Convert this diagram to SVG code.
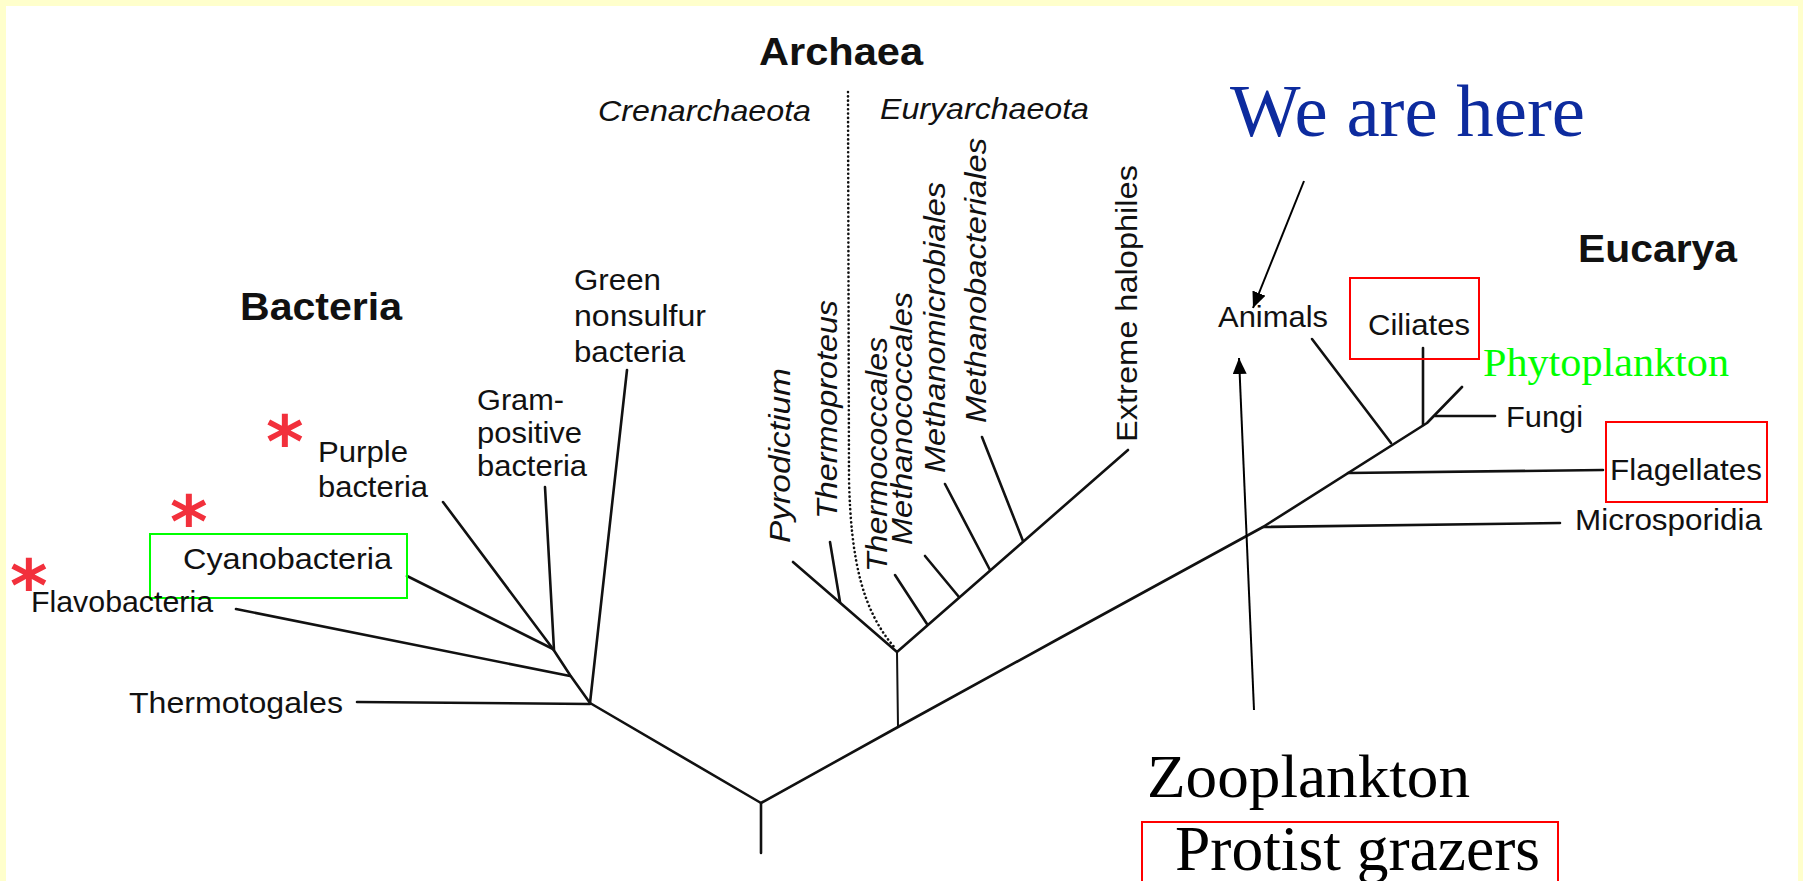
<svg xmlns="http://www.w3.org/2000/svg" width="1803" height="881" viewBox="0 0 1803 881">
<defs>
<marker id="ah" viewBox="0 0 16 14" refX="16" refY="7" markerWidth="16" markerHeight="14" markerUnits="userSpaceOnUse" orient="auto">
<path d="M0,0 L16,7 L0,14 z" fill="#000"/>
</marker>
<style>
.lbl{font-family:"Liberation Sans",Arial,sans-serif;font-size:30px;fill:#111}
.it{font-style:italic}
.big{font-family:"Liberation Sans",Arial,sans-serif;font-size:38px;font-weight:bold;fill:#111}
.ser{font-family:"Liberation Serif","Times New Roman",serif}
.ast{font-family:"DejaVu Sans",sans-serif;font-weight:bold;font-size:72px;fill:#F2303C}
.br{fill:none;stroke:#111;stroke-width:2.6;stroke-linecap:round;stroke-linejoin:round}
.thin{stroke-width:2}
.arr{fill:none;stroke:#000;stroke-width:2}
.rbox{fill:none;stroke:#FF0000;stroke-width:2}
.gbox{fill:none;stroke:#00FF00;stroke-width:2}
</style>
</defs>
<rect x="0" y="0" width="1803" height="881" fill="#FFFFCC"/>
<rect x="6" y="6" width="1792" height="880" fill="#FFFFFF"/>

<g id="connectors">
<path class="br" d="M761,853 L761,803 L590,703"/>
<path class="br" d="M761,803 L898,727 L1060,638 L1263,527 L1427,423 L1462,387"/>
<path class="br" d="M357,702 L590,704"/>
<path class="br" d="M590,703 L627,370"/>
<path class="br" d="M590,703 L570,675 L553,649"/>
<path class="br" d="M236,609 L570,676"/>
<path class="br" d="M407,576 L553,649"/>
<path class="br" d="M443,502 L553,649"/>
<path class="br" d="M545,487 L554,650"/>
<path class="br thin" d="M898,727 L897,652"/>
<path class="br" d="M793,562 L897,652 L1128,450"/>
<path class="br" d="M830,542 L840,602"/>
<path class="br" d="M895,575 L927,624"/>
<path class="br" d="M925,556 L959,597"/>
<path class="br" d="M945,484 L990,570"/>
<path class="br" d="M982,437 L1023,541"/>
<path fill="none" stroke="#111" stroke-width="2.6" stroke-linecap="round" stroke-dasharray="0.1 4.2" d="M848,92 L849,480 C851,560 862,610 895,648"/>
<path class="br" d="M1263,527 L1560,523"/>
<path class="br" d="M1348,473 L1603,470"/>
<path class="br" d="M1312,339 L1391,443"/>
<path class="br" d="M1423,348 L1423,425"/>
<path class="br" d="M1435,416 L1495,416"/>
<path class="arr" d="M1304,181 L1253,308" marker-end="url(#ah)"/>
<path class="arr" d="M1254,710 L1239,358" marker-end="url(#ah)"/>
</g>

<g id="domain-labels">
<text class="big" x="240" y="320" textLength="162" lengthAdjust="spacingAndGlyphs">Bacteria</text>
<text class="big" x="759" y="65" textLength="164" lengthAdjust="spacingAndGlyphs">Archaea</text>
<text class="big" x="1578" y="262" textLength="159" lengthAdjust="spacingAndGlyphs">Eucarya</text>
<text class="lbl it" x="598" y="121" textLength="213" lengthAdjust="spacingAndGlyphs">Crenarchaeota</text>
<text class="lbl it" x="880" y="119" textLength="209" lengthAdjust="spacingAndGlyphs">Euryarchaeota</text>
</g>

<g id="node-green-nonsulfur">
<text class="lbl" x="574" y="290" textLength="87" lengthAdjust="spacingAndGlyphs">Green</text>
<text class="lbl" x="574" y="326" textLength="132" lengthAdjust="spacingAndGlyphs">nonsulfur</text>
<text class="lbl" x="574" y="362" textLength="111" lengthAdjust="spacingAndGlyphs">bacteria</text>
</g>
<g id="node-gram-positive">
<text class="lbl" x="477" y="410" textLength="87" lengthAdjust="spacingAndGlyphs">Gram-</text>
<text class="lbl" x="477" y="443" textLength="105" lengthAdjust="spacingAndGlyphs">positive</text>
<text class="lbl" x="477" y="476" textLength="110" lengthAdjust="spacingAndGlyphs">bacteria</text>
</g>
<g id="node-purple">
<text class="lbl" x="318" y="462" textLength="90" lengthAdjust="spacingAndGlyphs">Purple</text>
<text class="lbl" x="318" y="497" textLength="110" lengthAdjust="spacingAndGlyphs">bacteria</text>
<text class="ast" x="266" y="467">*</text>
</g>
<g id="node-cyanobacteria">
<rect class="gbox" x="150" y="534" width="257" height="64"/>
<text class="lbl" x="183" y="569" textLength="209" lengthAdjust="spacingAndGlyphs">Cyanobacteria</text>
<text class="ast" x="170" y="547">*</text>
</g>
<g id="node-flavobacteria">
<text class="lbl" x="31" y="612" textLength="182" lengthAdjust="spacingAndGlyphs">Flavobacteria</text>
<text class="ast" x="10" y="611">*</text>
</g>
<g id="node-thermotogales">
<text class="lbl" x="129" y="713" textLength="214" lengthAdjust="spacingAndGlyphs">Thermotogales</text>
</g>

<g id="node-pyrodictium"><text class="lbl it" transform="translate(790,543) rotate(-90)" textLength="175" lengthAdjust="spacingAndGlyphs">Pyrodictium</text></g>
<g id="node-thermoproteus"><text class="lbl it" transform="translate(837,519) rotate(-90)" textLength="219" lengthAdjust="spacingAndGlyphs">Thermoproteus</text></g>
<g id="node-thermococcales"><text class="lbl it" transform="translate(887,572) rotate(-90)" textLength="235" lengthAdjust="spacingAndGlyphs">Thermococcales</text></g>
<g id="node-methanococcales"><text class="lbl it" transform="translate(912,545) rotate(-90)" textLength="253" lengthAdjust="spacingAndGlyphs">Methanococcales</text></g>
<g id="node-methanomicrobiales"><text class="lbl it" transform="translate(945,473) rotate(-90)" textLength="291" lengthAdjust="spacingAndGlyphs">Methanomicrobiales</text></g>
<g id="node-methanobacteriales"><text class="lbl it" transform="translate(986,423) rotate(-90)" textLength="285" lengthAdjust="spacingAndGlyphs">Methanobacteriales</text></g>
<g id="node-extreme-halophiles"><text class="lbl" transform="translate(1137,442) rotate(-90)" textLength="277" lengthAdjust="spacingAndGlyphs">Extreme halophiles</text></g>

<g id="node-animals"><text class="lbl" x="1218" y="327" textLength="110" lengthAdjust="spacingAndGlyphs">Animals</text></g>
<g id="node-ciliates">
<rect class="rbox" x="1350" y="278" width="129" height="81"/>
<text class="lbl" x="1368" y="335" textLength="102" lengthAdjust="spacingAndGlyphs">Ciliates</text>
</g>
<g id="node-phytoplankton"><text class="ser" x="1483" y="376" font-size="40" fill="#00FF00" textLength="246" lengthAdjust="spacingAndGlyphs">Phytoplankton</text></g>
<g id="node-fungi"><text class="lbl" x="1506" y="427" textLength="77" lengthAdjust="spacingAndGlyphs">Fungi</text></g>
<g id="node-flagellates">
<rect class="rbox" x="1606" y="422" width="161" height="80"/>
<text class="lbl" x="1610" y="480" textLength="152" lengthAdjust="spacingAndGlyphs">Flagellates</text>
</g>
<g id="node-microsporidia"><text class="lbl" x="1575" y="530" textLength="187" lengthAdjust="spacingAndGlyphs">Microsporidia</text></g>

<g id="node-we-are-here"><text class="ser" x="1230" y="136" font-size="73" fill="#0D2B9E" textLength="355" lengthAdjust="spacingAndGlyphs">We are here</text></g>
<g id="node-zooplankton">
<text class="ser" x="1147" y="797" font-size="62" fill="#000" textLength="323" lengthAdjust="spacingAndGlyphs">Zooplankton</text>
<rect class="rbox" x="1142" y="822" width="416" height="80"/>
<text class="ser" x="1175" y="870" font-size="63" fill="#000" textLength="365" lengthAdjust="spacingAndGlyphs">Protist grazers</text>
</g>
</svg>
